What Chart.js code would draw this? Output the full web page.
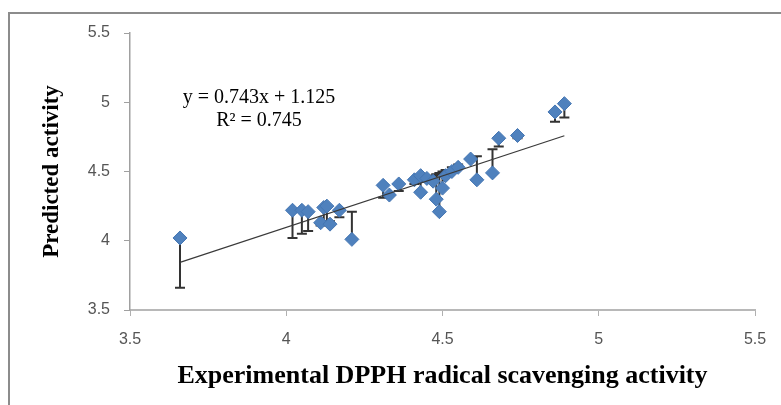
<!DOCTYPE html>
<html>
<head>
<meta charset="utf-8">
<script src="https://cdn.jsdelivr.net/npm/chart.js@4/dist/chart.umd.min.js"></script>
<style>
  html, body { margin: 0; padding: 0; background: #fff; }
  canvas { display: block; }
</style>
</head>
<body>
<canvas id="chart" width="781" height="405"></canvas>
<script>
// Werte
const experimental = [3.66, 4.02, 4.05, 4.07, 4.11, 4.12, 4.13, 4.14, 4.17, 4.21,
                      4.31, 4.33, 4.36, 4.41, 4.43, 4.43, 4.45, 4.47, 4.48, 4.49,
                      4.50, 4.51, 4.53, 4.55, 4.59, 4.61, 4.66, 4.68, 4.74, 4.86, 4.89];
const predicted    = [4.02, 4.22, 4.22, 4.21, 4.13, 4.24, 4.25, 4.12, 4.22, 4.01,
                      4.40, 4.33, 4.41, 4.44, 4.47, 4.35, 4.45, 4.43, 4.30, 4.21,
                      4.38, 4.47, 4.50, 4.53, 4.59, 4.44, 4.49, 4.74, 4.76, 4.93, 4.99];

// Trendlinie (Endpunkte)
const trendX = [3.66, 4.89];
const trendY = [3.844, 4.758];

const xTickLabels = ['3.5', '4', '4.5', '5', '5.5'];
const yTickLabels = ['3.5', '4', '4.5', '5', '5.5'];

const equationLines = ['y = 0.743x + 1.125', 'R\u00B2 = 0.745'];

const xTitle = 'Experimental DPPH radical scavenging activity';
const yTitle = 'Predicted activity';

// Rahmen links/oben
const framePlugin = {
    id: 'frame',
    beforeDraw(chart) {
        const ctx = chart.ctx;
        ctx.save();
        ctx.fillStyle = '#fff';
        ctx.fillRect(0, 0, chart.width, chart.height);
        ctx.strokeStyle = '#8c8c8c';
        ctx.lineWidth = 2;
        ctx.beginPath();
        ctx.moveTo(9, chart.height);
        ctx.lineTo(9, 13);
        ctx.lineTo(chart.width, 13);
        ctx.stroke();
        ctx.restore();
    }
};

// Fehlerbalken: vom vorhergesagten zum experimentellen Wert
const errorBarPlugin = {
    id: 'errorBars',
    beforeDatasetsDraw(chart) {
        const ctx = chart.ctx;
        const xs = chart.scales.x, ys = chart.scales.y;
        ctx.save();
        ctx.strokeStyle = '#333';
        ctx.lineWidth = 2;
        experimental.forEach((ex, i) => {
            const px = xs.getPixelForValue(ex);
            const y1 = ys.getPixelForValue(predicted[i]);
            const y2 = ys.getPixelForValue(ex);
            ctx.beginPath();
            ctx.moveTo(px, y1);
            ctx.lineTo(px, y2);
            ctx.moveTo(px - 5, y2);
            ctx.lineTo(px + 5, y2);
            ctx.stroke();
        });
        ctx.restore();
    }
};

// Gleichung der Trendlinie
const equationPlugin = {
    id: 'equation',
    afterDatasetsDraw(chart) {
        const ctx = chart.ctx;
        ctx.save();
        ctx.fillStyle = '#000';
        ctx.font = '20px "Liberation Serif"';
        ctx.textAlign = 'center';
        ctx.textBaseline = 'middle';
        ctx.fillText(equationLines[0], 259, 98);
        ctx.fillText(equationLines[1], 259, 121);
        ctx.restore();
    }
};

const ctx = document.getElementById('chart').getContext('2d');
new Chart(ctx, {
    type: 'scatter',
    data: {
        datasets: [
            {
                label: 'Trend',
                type: 'line',
                data: trendX.map((x, i) => ({ x: x, y: trendY[i] })),
                borderColor: '#3a3a3a',
                borderWidth: 1.2,
                pointRadius: 0,
                fill: false,
                order: 0
            },
            {
                label: 'Predicted',
                data: experimental.map((x, i) => ({ x: x, y: predicted[i] })),
                pointStyle: 'rectRot',
                pointRadius: 7,
                backgroundColor: '#4f81bd',
                borderColor: '#4576b3',
                borderWidth: 1,
                order: 1
            }
        ]
    },
    options: {
        responsive: false,
        animation: false,
        devicePixelRatio: 1,
        layout: { padding: { left: 0, right: 26, top: 33, bottom: 0 } },
        plugins: {
            legend: { display: false },
            tooltip: { enabled: false }
        },
        scales: {
            x: {
                type: 'linear',
                min: 3.5,
                max: 5.5,
                afterFit: s => { s.height = 95; },
                ticks: {
                    stepSize: 0.5,
                    padding: 14,
                    color: '#555',
                    font: { family: '"Liberation Sans"', size: 16 },
                    callback: (v, i) => xTickLabels[i]
                },
                grid: { drawOnChartArea: false, drawTicks: true, tickLength: 6, color: '#b0b0b0' },
                border: { color: '#b8b8b8', width: 2 },
                title: {
                    display: true,
                    text: xTitle,
                    color: '#000',
                    font: { family: '"Liberation Serif"', size: 26, weight: 'bold' },
                    padding: { top: 0, bottom: 13 }
                }
            },
            y: {
                type: 'linear',
                min: 3.5,
                max: 5.5,
                afterFit: s => { s.width = 130; },
                ticks: {
                    stepSize: 0.5,
                    padding: 14,
                    color: '#555',
                    font: { family: '"Liberation Sans"', size: 16 },
                    callback: (v, i) => yTickLabels[i]
                },
                grid: { drawOnChartArea: false, drawTicks: true, tickLength: 6, color: '#a0a0a0' },
                border: { color: '#a0a0a0', width: 1.5 },
                title: {
                    display: true,
                    text: yTitle,
                    color: '#000',
                    font: { family: '"Liberation Serif"', size: 23, weight: 'bold' },
                    padding: { top: 38, bottom: 0 }
                }
            }
        }
    },
    plugins: [framePlugin, errorBarPlugin, equationPlugin]
});
</script>
</body>
</html>
